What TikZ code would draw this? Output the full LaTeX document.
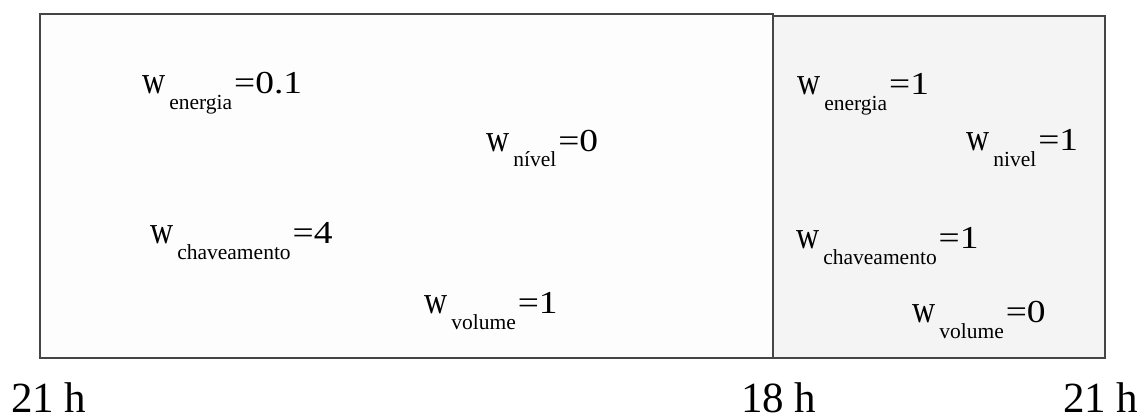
\documentclass[tikz,border=0pt]{standalone}
\usepackage{fontspec}
\setmainfont{Liberation Serif}
\usepackage{graphicx}
\usepackage{xcolor}
\usetikzlibrary{positioning}

\definecolor{rimgray}{HTML}{454545}
\definecolor{pastfill}{HTML}{FDFDFD}
\definecolor{nowfill}{HTML}{F4F4F4}

% weight term: tall w, lowered name, then wide =value
\newcommand{\wterm}[2]{\scalebox{1}[1.22]{w}\hspace{4pt}\raisebox{-16pt}{\fontsize{21.5}{24}\selectfont #1}\hspace{2pt}\scalebox{1.17}[1]{=#2}}

\tikzset{
  period/.style={draw=rimgray,line width=1.3pt},
  wlabel/.style={anchor=base west,inner sep=0pt,font=\fontsize{32}{36}\selectfont},
  hourlabel/.style={anchor=base west,inner sep=0pt,font=\fontsize{43}{46}\selectfont}
}

\begin{document}
\begin{tikzpicture}[x=1pt,y=-1pt]
    \useasboundingbox (0,0) rectangle (1143,417);

    % Periods
    \draw[period,fill=pastfill] (40,14) rectangle (773,358);
    \draw[period,fill=nowfill] (773,16) rectangle (1105,358);

    % Weights 21 h - 18 h
    \node[wlabel] (eA) at (142,94) {\wterm{energia}{0.1}};
    \node[wlabel] (nA) at (486,151) {\wterm{nível}{0}};
    \node[wlabel] (cA) at (150,243) {\wterm{chaveamento}{4}};
    \node[wlabel] (vA) at (424,313) {\wterm{volume}{1}};

    % Weights 18 h - 21 h
    \node[wlabel] (eB) at (797,95) {\wterm{energia}{1}};
    \node[wlabel] (nB) at (966,150) {\wterm{nivel}{1}};
    \node[wlabel] (cB) at (796,248) {\wterm{chaveamento}{1}};
    \node[wlabel] (vB) at (912,322) {\wterm{volume}{0}};

    % Hours
    \node[hourlabel] (hA) at (11,412) {21 h};
    \node[hourlabel] (hB) at (741,412) {18 h};
    \node[hourlabel] (hC) at (1063,412) {21 h};
\end{tikzpicture}
\end{document}
